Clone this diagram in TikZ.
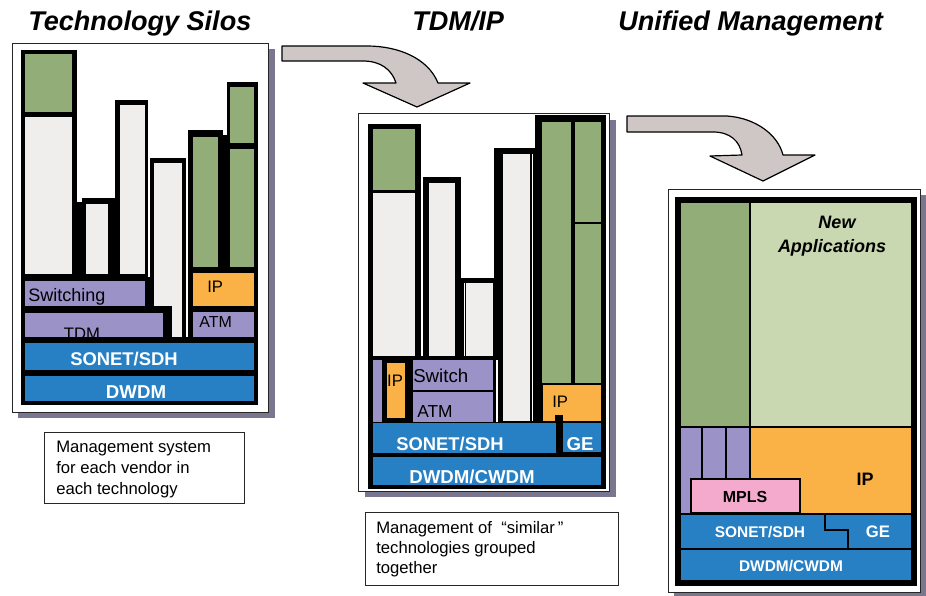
\documentclass[tikz,border=0pt]{standalone}
\usepackage{fontspec}
\setmainfont{Liberation Sans}
\definecolor{dgreen}{RGB}{147,173,120}
\definecolor{lgreen}{RGB}{201,216,177}
\definecolor{lgray}{RGB}{240,238,236}
\definecolor{purp}{RGB}{155,146,199}
\definecolor{orng}{RGB}{250,178,70}
\definecolor{blu}{RGB}{40,128,196}
\definecolor{pnk}{RGB}{243,170,205}
\definecolor{arrg}{RGB}{207,198,198}
\definecolor{shad}{RGB}{122,118,142}
\newcommand{\fs}[1]{\fontsize{#1}{#1}\selectfont}
\begin{document}
\begin{tikzpicture}[x=0.75pt,y=-0.75pt,
  lab/.style={inner sep=0pt, anchor=base, text=black},
  wlab/.style={inner sep=0pt, anchor=base, text=white, font=\bfseries},
  ttl/.style={inner sep=0pt, anchor=base west, font=\bfseries\itshape\fs{20.3}},
  outerbox/.style={fill=white, draw=black!85, line width=0.6pt},
  note/.style={draw=black!85, line width=0.7pt, fill=white},
  notetxt/.style={inner sep=0pt, anchor=base west, font=\fs{12.5}},
  blockarrow/.style={fill=arrg, draw=black, line width=0.9pt, line join=round}]
\useasboundingbox (0,0) rectangle (926,596);

% ---------- titles ----------
\node[ttl] (t1) at (28,31) {Technology Silos};
\node[ttl] (t2) at (412,31) {TDM/IP};
\node[ttl] (t3) at (618,31) {Unified Management};

% ---------- block arrows ----------
\draw[blockarrow] (282,46) -- (367,46) .. controls (398,46) and (428,58) .. (438,83)
  -- (470,83) -- (417,107) -- (363,83) -- (396,83)
  .. controls (392,70) and (381,61) .. (363,61) -- (282,61) -- cycle;
\draw[blockarrow] (627,116) -- (727,116) .. controls (756,118) and (778,135) .. (783,155)
  -- (815,155) -- (763,181) -- (710,156) -- (742,155)
  .. controls (740,141) and (730,132) .. (713,132) -- (627,132) -- cycle;

% ================= Panel 1 =================
\fill[shad] (18,49) rectangle (275,418);
\draw[outerbox] (12,43) rectangle (268,412);
% black frames
\fill[black] (21,50) rectangle (77,282);
\fill[black] (82,198) rectangle (116,282);
\fill[black] (75,202) rectangle (84,282);
\fill[black] (115,100) rectangle (148,282);
\fill[black] (150,158) rectangle (186,340);
\fill[black] (188,130) rectangle (223,272);
\fill[black] (221,135) rectangle (229,272);
\fill[black] (227,82) rectangle (258,272);
\fill[black] (21,277) rectangle (170,340);
\fill[black] (188,268) rectangle (258,340);
\fill[black] (21,337) rectangle (258,405);
% cells
\fill[dgreen] (25,54) rectangle (72,112);
\fill[lgray] (25,117) rectangle (72,274);
\fill[lgray] (86,204) rectangle (108,274);
\fill[lgray] (120,105) rectangle (145,274);
\fill[lgray] (154,163) rectangle (182,306);
\fill[lgray] (172,306) rectangle (182,337);
\fill[dgreen] (193,137) rectangle (218,267);
\fill[dgreen] (230,87) rectangle (254,143);
\fill[dgreen] (230,149) rectangle (254,267);
\fill[orng] (193,273) rectangle (254,306);
\fill[purp] (193,312) rectangle (254,337);
\fill[purp] (25,281) rectangle (145,306);
\fill[purp] (25,313) rectangle (163,337);
\fill[blu] (25,343) rectangle (254,370);
\fill[blu] (25,376) rectangle (254,401);
% labels
\node[lab, anchor=base west, font=\fs{13.5}] (p1sw) at (28,301) {Switching};
\begin{scope}
  \clip (25,313) rectangle (163,337);
  \node[lab, font=\fs{12.5}] (p1tdm) at (82,339) {TDM};
\end{scope}
\node[lab, anchor=base west, font=\fs{12.5}] (p1ip) at (207,292) {IP};
\node[lab, anchor=base west, font=\fs{12}] (p1atm) at (199,327) {ATM};
\node[wlab, font=\bfseries\fs{13.8}] (p1sonet) at (124,365) {SONET/SDH};
\node[wlab, font=\bfseries\fs{14}] (p1dwdm) at (136,398) {DWDM};

% ================= Panel 2 =================
\fill[shad] (365,120) rectangle (616,497);
\draw[outerbox] (358,113) rectangle (609,491);
% black frames
\fill[black] (368,124) rectangle (421,362);
\fill[black] (423,177) rectangle (461,362);
\fill[black] (460,278) rectangle (497,362);
\fill[black] (494,148) rectangle (536,425);
\fill[black] (535,115) rectangle (606,425);
\fill[black] (368,356) rectangle (606,489);
% cells
\fill[dgreen] (373,129) rectangle (415,190);
\fill[lgray] (373,193) rectangle (415,356);
\fill[lgray] (429,183) rectangle (455,356);
\fill[lgray] (466,283) rectangle (493,356);
\fill[lgray] (503,154) rectangle (530,421);
\fill[dgreen] (542,122) rectangle (571,383);
\fill[dgreen] (575,122) rectangle (601,222);
\fill[dgreen] (575,224) rectangle (601,383);
\fill[orng] (543,385) rectangle (601,421);
\fill[black] (555,415) rectangle (563,423);
\fill[blu] (563,423) rectangle (601,452);
\fill[blu] (373,423) rectangle (556,453);
\fill[blu] (373,457) rectangle (601,485);
\fill[purp] (373,360) rectangle (382,422);
\fill[orng] (387,363) rectangle (405,418);
\fill[purp] (413,360) rectangle (493,390);
\fill[purp] (413,392) rectangle (493,422);
\draw[white, line width=0.75pt] (464,283) -- (464,356);
\draw[white, line width=0.75pt] (532.5,154) -- (532.5,421);
\draw[white, line width=1.5pt] (496.5,360) -- (496.5,422);
% labels
\node[lab, font=\fs{12.5}] (p2ipl) at (395,386) {IP};
\node[lab, anchor=base west, font=\fs{14}] (p2sw) at (413,382) {Switch};
\node[lab, anchor=base west, font=\fs{13}] (p2atm) at (417,417) {ATM};
\node[lab, anchor=base west, font=\fs{12.5}] (p2ipr) at (552,407) {IP};
\node[wlab, font=\bfseries\fs{13.8}] (p2sonet) at (450,450) {SONET/SDH};
\node[wlab, font=\bfseries\fs{14}] (p2ge) at (580,450) {GE};
\node[wlab, font=\bfseries\fs{14}] (p2dwdm) at (472,483) {DWDM/CWDM};

% ================= Panel 3 =================
\fill[shad] (674,195) rectangle (926,598);
\draw[outerbox] (668,189) rectangle (920,592);
\fill[black] (675,197) rectangle (917,586);
\fill[dgreen] (681,203) rectangle (749,426);
\fill[lgreen] (751,203) rectangle (911,426);
\fill[purp] (681,427.5) rectangle (749,513);
\fill[orng] (751,427.5) rectangle (911,513);
\draw[black, line width=0.9pt] (702,427) -- (702,479) (726,427) -- (726,479);
\draw[fill=pnk, draw=black, line width=0.8pt] (691,479) rectangle (800,513);
\fill[blu] (681,515) rectangle (911,548);
\fill[blu] (681,550) rectangle (911,580);
\draw[black, line width=1.1pt] (825,515) -- (825,530) -- (848,530) -- (848,548);
% labels
\node[lab, font=\bfseries\itshape\fs{13.5}] (p3new) at (837,228) {New};
\node[lab, font=\bfseries\itshape\fs{13.5}] (p3app) at (832,252) {Applications};
\node[lab, font=\bfseries\fs{13.5}] (p3ip) at (865,485) {IP};
\node[lab, font=\bfseries\fs{12}] (p3mpls) at (745,502) {MPLS};
\node[wlab, font=\bfseries\fs{11.6}] (p3sonet) at (760,537) {SONET/SDH};
\node[wlab, font=\bfseries\fs{12.5}] (p3ge) at (878,537) {GE};
\node[wlab, font=\bfseries\fs{11.6}] (p3dwdm) at (791,571) {DWDM/CWDM};

% ---------- notes ----------
\draw[note] (44,432) rectangle (244,503);
\node[notetxt] (n1a) at (56,452) {Management system};
\node[notetxt] (n1b) at (56,473) {for each vendor in};
\node[notetxt] (n1c) at (56,494) {each technology};
\draw[note] (365,512) rectangle (618,585);
\node[notetxt] (n2a) at (376,533) {Management of\ \ “similar\,”};
\node[notetxt] (n2b) at (376,553) {technologies grouped};
\node[notetxt] (n2c) at (376,573) {together};
\end{tikzpicture}
\end{document}
